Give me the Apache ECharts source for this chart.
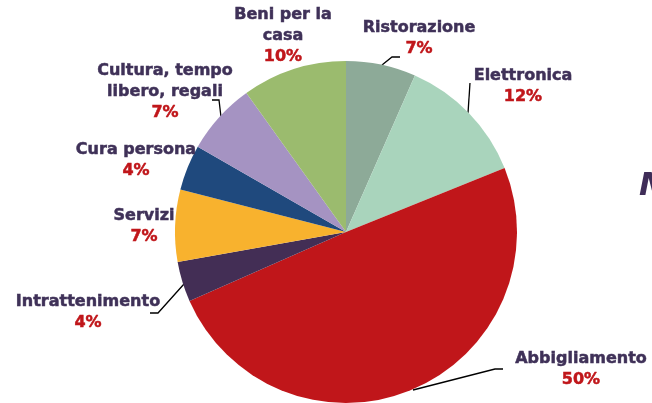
<!DOCTYPE html>
<html><head><meta charset="utf-8">
<script src="https://cdn.jsdelivr.net/npm/echarts@6/dist/echarts.min.js"></script>
<style>html,body{margin:0;padding:0;background:#fff}#c{width:652px;height:403px}</style>
</head><body><div id="c"></div>
<script>
var categories = ['Ristorazione','Elettronica','Abbigliamento','Intrattenimento','Servizi','Cura persona','Cultura, tempo\nlibero, regali','Beni per la\ncasa'];
var values = [6.6, 12.3, 49.5, 3.8, 6.8, 4.3, 6.8, 9.9];
var colors = ['#8DAA98','#A9D4BC','#C0161A','#432E55','#F8B22E','#1F497D','#A593C2','#9BBB6E'];

// label layout (text block centre) and leader lines
var labelPos = [[419,38],[523,86],[581,369],[88,312],[144,226],[136,160],[165,92],[283,36]];
var leaders = [
  [[382,65],[392,57],[400,57]],
  [[468,113],[470,83],[470,83]],
  [[413,390],[495,369],[503,369]],
  [[184,284],[158,313],[150,313]],
  null, null,
  [[221,117],[219,100],[212,100]],
  null
];

var chart = echarts.init(document.getElementById('c'));
chart.setOption({
  animation: false,
  title: {
    text: 'M', left: 634, top: 166,
    textStyle: {color:'#3F2D58', fontSize: 32, fontStyle:'italic', fontWeight:'bold', fontFamily:'DejaVu Sans'}
  },
  series: [{
    type: 'pie',
    center: [346, 232],
    radius: [0, 171],
    startAngle: 90,
    clockwise: true,
    data: categories.map(function(n,i){
      return {name:n, value:values[i], itemStyle:{color:colors[i]}, labelLine:{show: !!leaders[i]}};
    }),
    itemStyle: {borderWidth: 0},
    label: {
      show: true,
      position: 'outside',
      formatter: function(p){ return '{n|' + p.name.split('\n').join('}\n{n|') + '}\n{v|' + Math.round(p.value) + '%}'; },
      rich: {
        n: {color:'#3F3158', fontSize:16, fontWeight:'bold', fontFamily:'DejaVu Sans', lineHeight:21, align:'center', textBorderColor:'#3F3158', textBorderWidth:0.5},
        v: {color:'#C0161A', fontSize:16, fontWeight:'bold', fontFamily:'DejaVu Sans', lineHeight:21, align:'center', textBorderColor:'#C0161A', textBorderWidth:0.5}
      }
    },
    labelLine: {show:true, lineStyle:{color:'#000', width:1.3}, length:10, length2:10},
    labelLayout: function(params){
      var i = params.dataIndex;
      var r = {x: labelPos[i][0], y: labelPos[i][1], align:'center', verticalAlign:'middle'};
      if (leaders[i]) r.labelLinePoints = leaders[i];
      return r;
    }
  }]
});
</script></body></html>
